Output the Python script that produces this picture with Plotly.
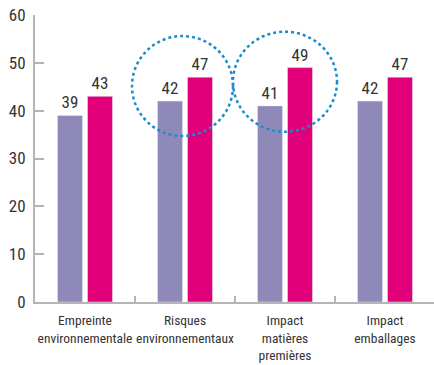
import plotly.graph_objects as go

categories = ["Empreinte<br>environnementale", "Risques<br>environnementaux",
              "Impact<br>matières<br>premières", "Impact<br>emballages"]
series_a = [39, 42, 41, 42]
series_b = [43, 47, 49, 47]
y_ticks = [0, 10, 20, 30, 40, 50, 60]

FONT = "Roboto Condensed"

fig = go.Figure()
fig.add_trace(go.Bar(x=categories, y=series_a, marker_color="#8f89b9",
                     text=series_a, textposition="outside", cliponaxis=False,
                     textfont=dict(size=17, color="#333333", family=FONT)))
fig.add_trace(go.Bar(x=categories, y=series_b, marker_color="#e2007a",
                     text=series_b, textposition="outside", cliponaxis=False,
                     textfont=dict(size=17, color="#333333", family=FONT)))

circle_style = dict(type="circle", xref="x", yref="y",
                    line=dict(color="#1a8ccc", width=2.5, dash="dot"))
fig.add_shape(x0=0.47, x1=1.48, y0=34.7, y1=55.6, **circle_style)
fig.add_shape(x0=1.48, x1=2.52, y0=35.6, y1=56.5, **circle_style)

fig.update_layout(
    width=435, height=365,
    margin=dict(l=35, r=0, t=15, b=63),
    plot_bgcolor="white", paper_bgcolor="white",
    barmode="group", bargap=0.4, bargroupgap=1/6,
    showlegend=False,
    font=dict(family=FONT, color="#333333"),
)
fig.update_xaxes(range=[-0.5, 3.5], showline=True, linecolor="#b5b5b5", linewidth=2,
                 ticks="inside", tickson="boundaries", ticklen=6, tickcolor="#b5b5b5",
                 tickwidth=1.5, tickangle=0, automargin=False, ticklabelstandoff=5,
                 ticklabeloverflow="allow",
                 tickfont=dict(size=13.5, color="#333333", family=FONT))
fig.update_yaxes(range=[0, 60], tickvals=y_ticks, showgrid=False, zeroline=False,
                 showline=True, linecolor="#b5b5b5", linewidth=2, automargin=False,
                 ticks="inside", ticklen=9, tickcolor="#b5b5b5", tickwidth=1.5,
                 ticklabelstandoff=4, ticklabeloverflow="allow",
                 tickfont=dict(size=17, color="#333333", family=FONT))

fig.write_html("out.html", config={"displayModeBar": False},
               post_script="document.body.style.margin='0';document.body.style.overflow='hidden';")
